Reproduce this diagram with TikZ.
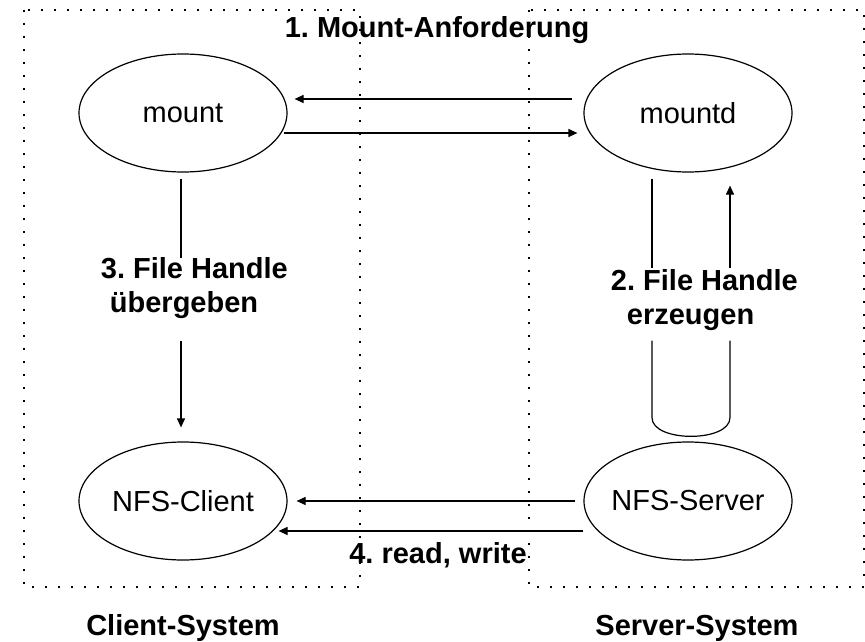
\documentclass[tikz,border=0pt]{standalone}
\usepackage{fontspec}
\setmainfont{Liberation Sans}
\frenchspacing
\usetikzlibrary{calc,arrows.meta,shapes.geometric}

\begin{document}
\begin{tikzpicture}[x=1pt,y=-1pt,line width=1.2pt,font=\fontsize{29}{34}\selectfont,
            proc/.style={draw,ellipse,minimum width=208pt,minimum height=118pt,inner xsep=-6pt,inner ysep=0pt},
            lbl/.style={font=\fontsize{29}{34}\selectfont\bfseries,anchor=base},
            arr/.style={-{Triangle[length=9pt,width=8pt]}},
            sys/.style={line width=1.8pt,dash pattern=on 1.8pt off 11.2pt}]
            \useasboundingbox (0,0) rectangle (865,642);
            \draw[sys] (24,10) rectangle (360,587);
            \draw[sys] (529,10) rectangle (864,587);
            \node[proc] (mount) at (183,113) {mount};
            \node[proc] (mountd) at (688,113) {mountd};
            \node[proc] (nfsclient) at (183,501) {NFS-Client};
            \node[proc] (nfsserver) at (688,501) {NFS-Server};
            \node[lbl] (anf) at (437,38) {1. Mount-Anforderung};
            \node[lbl,anchor=west,align=left] (fh3) at (97,288) {3. File Handle\\\hspace*{9pt}übergeben};
            \node[lbl,anchor=west,align=left] (fh2) at (607,300) {2. File Handle\\\hspace*{16pt}erzeugen};
            \node[lbl] (rw) at (438,563) {4. read, write};
            \node[lbl] (csys) at (183,635) {Client-System};
            \node[lbl] (ssys) at (697,635) {Server-System};
            \draw[arr] ($(mountd.west)+(-11,-14)$) -- ($(mount.east)+(7,-14)$);
            \draw[arr] ($(mount.east)+(-4,20)$) -- ($(mountd.west)+(-6,20)$);
            \draw ($(mountd.south)+(-36,6)$) -- ($(mountd.south)+(-36,95)$);
            \draw ($(mountd.south)+(-36,168)$) -- ($(mountd.south)+(-36,245)$)
                .. controls ($(mountd.south)+(-36,270)$) and ($(mountd.south)+(42,270)$) .. ($(mountd.south)+(42,245)$)
                -- ($(mountd.south)+(42,168)$);
            \draw[arr] ($(mountd.south)+(42,95)$) -- ($(mountd.south)+(42,13)$);
            \draw ($(mount.south)+(-2,6)$) -- ($(mount.south)+(-2,85)$);
            \draw[arr] ($(mount.south)+(-2,168)$) -- ($(nfsclient.north)+(-2,-14)$);
            \draw[arr] ($(nfsserver.west)+(-8,0)$) -- ($(nfsclient.east)+(9,0)$);
            \draw[arr] ($(nfsserver.west)+(0,30)$) -- ($(nfsclient.east)+(-9,30)$);
        \end{tikzpicture}
\end{document}
